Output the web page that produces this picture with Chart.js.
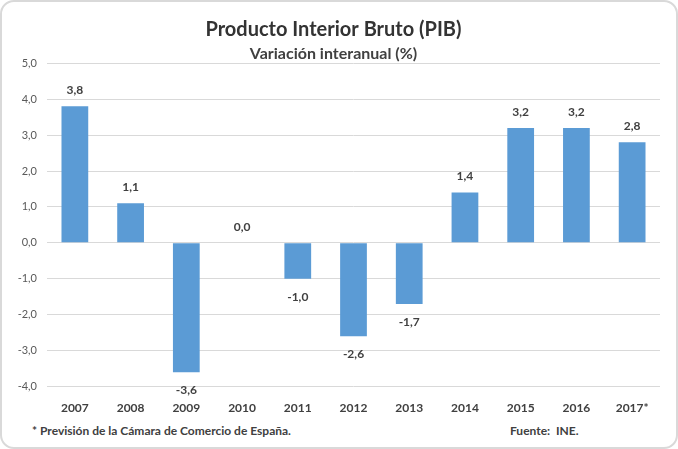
<!DOCTYPE html>
<html>
<head>
<meta charset="utf-8">
<script src="https://cdn.jsdelivr.net/npm/chart.js@4"></script>
<style>
  body { margin: 0; background: #fff; }
  #box {
    position: absolute; left: 0; top: 0; width: 678px; height: 449px;
    box-sizing: border-box; border: 2px solid #d9d9d9; border-radius: 14px;
    font-family: Lato, sans-serif; overflow: hidden;
  }
  #wrap { position: absolute; left: 0; top: 0; width: 674px; height: 421px; }
  .note { position: absolute; top: 421px; font-size: 12px; font-weight: bold; color: #404040; }
</style>
</head>
<body>
<div id="box">
  <div id="wrap"><canvas id="pib"></canvas></div>
  <div class="note" style="left: 30px">* Previsión de la Cámara de Comercio de España.</div>
  <div class="note" style="left: 508px">Fuente:&nbsp; INE.</div>
</div>
<script>
const years = ['2007', '2008', '2009', '2010', '2011', '2012', '2013', '2014', '2015', '2016', '2017*']
const pibValues = [3.8, 1.1, -3.6, 0.0, -1.0, -2.6, -1.7, 1.4, 3.2, 3.2, 2.8]

const fmt = (v) => v.toFixed(1).replace('.', ',')

// etiquetas encima / debajo de cada barra
const barLabels = {
  id: 'barLabels',
  afterDatasetsDraw(chart) {
    const ctx = chart.ctx
    const meta = chart.getDatasetMeta(0)
    ctx.save()
    ctx.font = 'bold 12px Lato, sans-serif'
    ctx.fillStyle = '#404040'
    ctx.textAlign = 'center'
    ctx.textBaseline = 'middle'
    meta.data.forEach((bar, i) => {
      const v = pibValues[i]
      const y = v < 0 ? bar.y + 18 : bar.y - 16
      ctx.fillText(fmt(v), bar.x, y)
    })
    ctx.restore()
  },
}

new Chart(document.getElementById('pib'), {
  type: 'bar',
  data: {
    labels: years,
    datasets: [
      {
        data: pibValues,
        backgroundColor: '#5b9bd5',
        barPercentage: 0.96,
        categoryPercentage: 0.5,
      },
    ],
  },
  options: {
    responsive: true,
    maintainAspectRatio: false,
    animation: false,
    layout: { padding: { left: 5, right: 16, bottom: 2 } },
    plugins: {
      legend: { display: false },
      tooltip: { enabled: false },
      title: {
        display: true,
        text: 'Producto Interior Bruto (PIB)',
        color: '#333333',
        font: { family: 'Lato', size: 20, weight: 'bold' },
        padding: { top: 16, bottom: 2 },
      },
      subtitle: {
        display: true,
        text: 'Variación interanual (%)',
        color: '#404040',
        font: { family: 'Lato', size: 16, weight: 'bold' },
        padding: { top: 0, bottom: 0 },
      },
    },
    scales: {
      x: {
        grid: { display: false },
        border: { display: false },
        ticks: {
          color: '#404040',
          padding: 6,
          font: { family: 'Lato', size: 12, weight: 'bold' },
        },
      },
      y: {
        min: -4,
        max: 5,
        afterFit: (scale) => { scale.width = 40 },
        grid: { color: '#d9d9d9', drawTicks: false },
        border: { display: false },
        ticks: {
          stepSize: 1,
          color: '#595959',
          padding: 10,
          font: { family: 'Lato', size: 11 },
          callback: (v) => fmt(v),
        },
      },
    },
  },
  plugins: [barLabels],
})
</script>
</body>
</html>
